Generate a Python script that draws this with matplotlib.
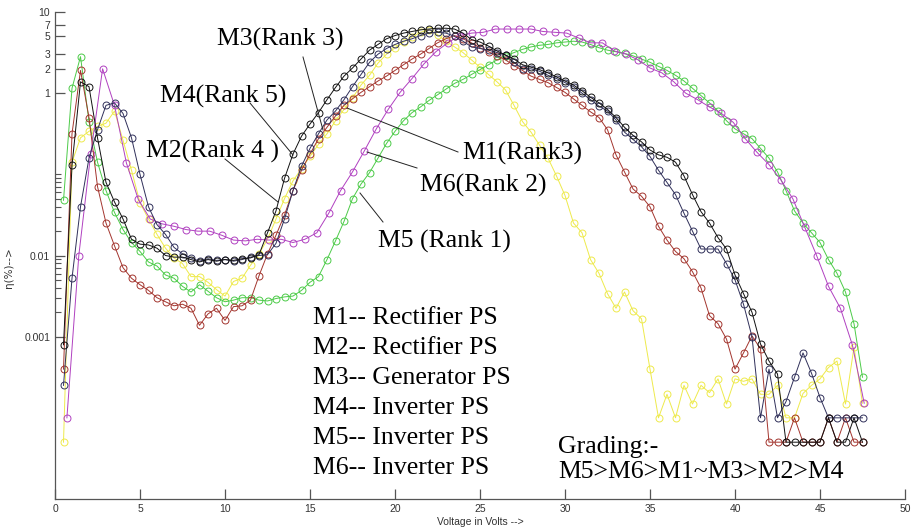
import numpy as np
import matplotlib
matplotlib.use("Agg")
import matplotlib.pyplot as plt
from matplotlib.lines import Line2D
from matplotlib.ticker import FixedLocator, FixedFormatter, NullFormatter

# sampling voltages (most sets every 0.5 V, M6 every 0.7 V)
volts = np.arange(1, 96) * 0.5
volts_m6 = np.arange(1, 69) * 0.7

# efficiency as log10 of percent
m1_log = [-3.6, -2.28, -1.4, -0.8, -0.45, -0.15, -0.12, -0.25, -0.55, -1.0,
          -1.4, -1.62, -1.74, -1.9, -1.98, -2.03, -2.07, -2.04, -2.06, -2.05,
          -2.07, -2.05, -2.02, -2.0, -1.99, -1.85, -1.55, -1.2, -0.9, -0.68,
          -0.5, -0.33, -0.22, -0.08, 0.08, 0.23, 0.38, 0.48, 0.55, 0.6,
          0.64, 0.67, 0.71, 0.74, 0.75, 0.74, 0.7, 0.64, 0.57, 0.55,
          0.53, 0.5, 0.47, 0.38, 0.3, 0.3, 0.27, 0.22, 0.18, 0.13,
          0.08, 0.0, -0.08, -0.16, -0.22, -0.33, -0.48, -0.57, -0.66, -0.78,
          -0.95, -1.1, -1.25, -1.48, -1.7, -1.92, -1.92, -1.92, -2.1, -2.3,
          -2.6, -3.0, -4.0, -3.4, -4.0, -3.8, -3.5, -3.2, -3.45, -3.75,
          -4.0, -4.0, -4.0, -4.0, -4.0]

m2_log = [-3.4, -0.5, 0.28, -0.3, -1.15, -1.6, -1.88, -2.15, -2.28, -2.36,
          -2.43, -2.52, -2.57, -2.62, -2.6, -2.65, -2.86, -2.72, -2.65, -2.8,
          -2.63, -2.62, -2.55, -2.25, -1.98, -1.75, -1.5, -1.2, -0.95, -0.75,
          -0.56, -0.42, -0.28, -0.15, -0.07, 0.01, 0.08, 0.15, 0.21, 0.28,
          0.35, 0.42, 0.48, 0.55, 0.62, 0.67, 0.71, 0.67, 0.62, 0.56,
          0.51, 0.46, 0.41, 0.34, 0.28, 0.21, 0.17, 0.13, 0.07, 0.01,
          -0.07, -0.15, -0.23, -0.3, -0.45, -0.76, -0.97, -1.18, -1.27, -1.4,
          -1.64, -1.81, -1.95, -2.04, -2.2, -2.4, -2.74, -2.84, -3.03, -3.4,
          -3.2, -2.99, -3.15, -4.3, -4.3, -4.3, -4.0, -4.3, -4.3, -4.3,
          -4.0, -4.3, -4.0, -4.3, -4.3]

m3_log = [-3.1, -0.89, 0.14, 0.08, -0.55, -1.1, -1.34, -1.55, -1.8, -1.86,
          -1.87, -1.91, -2.0, -2.02, -2.02, -2.05, -2.08, -2.05, -2.07, -2.05,
          -2.06, -2.04, -2.03, -1.99, -1.72, -1.45, -1.05, -0.75, -0.53, -0.38,
          -0.24, -0.08, 0.07, 0.21, 0.31, 0.42, 0.53, 0.6, 0.67, 0.71,
          0.74, 0.76, 0.78, 0.79, 0.8, 0.8, 0.79, 0.74, 0.66, 0.63,
          0.58, 0.52, 0.47, 0.42, 0.35, 0.32, 0.29, 0.25, 0.2, 0.15,
          0.1, 0.03, -0.05, -0.12, -0.2, -0.3, -0.42, -0.52, -0.6, -0.7,
          -0.76, -0.79, -0.85, -1.02, -1.25, -1.46, -1.6, -1.78, -1.92, -2.24,
          -2.47, -2.7, -3.09, -3.3, -3.46, -4.3, -4.3, -4.3, -4.3, -4.3,
          -4.0, -4.3, -4.3, -4.0, -4.3]

m4_log = [-4.3, -0.85, -0.55, -0.47, -0.41, -0.37, -0.22, -0.58, -0.95, -1.35,
          -1.55, -1.74, -1.91, -2.03, -2.1, -2.26, -2.26, -2.33, -2.42, -2.5,
          -2.32, -2.28, -2.12, -1.98, -1.8, -1.55, -1.3, -1.08, -0.93, -0.78,
          -0.63, -0.5, -0.34, -0.2, -0.06, 0.1, 0.22, 0.37, 0.48, 0.56,
          0.63, 0.69, 0.75, 0.78, 0.72, 0.64, 0.57, 0.5, 0.41, 0.32,
          0.23, 0.14, 0.04, -0.15, -0.35, -0.48, -0.64, -0.8, -1.02, -1.26,
          -1.6, -1.72, -2.05, -2.22, -2.47, -2.65, -2.45, -2.68, -2.78, -3.4,
          -4.0, -3.71, -4.0, -3.6, -3.83, -3.6, -3.69, -3.52, -3.83, -3.52,
          -3.55, -3.52, -3.71, -3.71, -3.6, -4.0, -4.0, -3.7, -3.6, -3.52,
          -3.38, -3.3, -3.83, -3.13, -3.82]

m5_log = [-1.32, 0.06, 0.45, -0.35, -0.85, -1.2, -1.47, -1.68, -1.84, -1.95,
          -2.08, -2.13, -2.24, -2.28, -2.38, -2.45, -2.36, -2.44, -2.52, -2.57,
          -2.55, -2.52, -2.52, -2.55, -2.56, -2.53, -2.51, -2.5, -2.43, -2.33,
          -2.26, -2.05, -1.82, -1.58, -1.3, -1.12, -0.98, -0.8, -0.62, -0.47,
          -0.34, -0.24, -0.17, -0.09, -0.02, 0.05, 0.12, 0.17, 0.23, 0.29,
          0.35, 0.41, 0.46, 0.5, 0.54, 0.57, 0.59, 0.6, 0.62, 0.63,
          0.64, 0.63, 0.6, 0.56, 0.53, 0.51, 0.49, 0.46, 0.42, 0.38,
          0.33, 0.28, 0.22, 0.15, 0.06, -0.03, -0.12, -0.22, -0.34, -0.44,
          -0.5, -0.56, -0.68, -0.8, -0.97, -1.2, -1.45, -1.6, -1.72, -1.84,
          -2.05, -2.22, -2.45, -2.84, -3.5]

m6_log = [-4.0, -2.0, -0.75, 0.3, -0.15, -0.86, -1.31, -1.55, -1.61, -1.64,
          -1.68, -1.70, -1.70, -1.75, -1.81, -1.82, -1.80, -1.81, -1.80, -1.84,
          -1.80, -1.72, -1.48, -1.2, -0.97, -0.71, -0.44, -0.2, 0.01, 0.18,
          0.36, 0.51, 0.62, 0.71, 0.74, 0.75, 0.79, 0.79, 0.79, 0.79,
          0.76, 0.75, 0.74, 0.68, 0.62, 0.62, 0.52, 0.48, 0.41, 0.31,
          0.25, 0.14, 0.0, -0.08, -0.17, -0.25, -0.36, -0.56, -0.73, -0.88,
          -1.07, -1.3, -1.65, -2.0, -2.38, -2.65, -3.1, -3.82]

ytick_vals = [0.001, 0.01, 1, 2, 3, 5, 7, 10]
ytick_labels = ["0.001", "0.01", "1", "2", "3", "5", "7", "10"]

W, H = 922, 530
fig = plt.figure(figsize=(W / 100, H / 100), dpi=100)
ax = fig.add_axes([55 / W, 1 - 499 / H, 850 / W, 487 / H])

series = [
    (volts, m4_log, "#eeea4c"),
    (volts, m5_log, "#4ccb48"),
    (volts_m6, m6_log, "#b040c0"),
    (volts, m2_log, "#a3352e"),
    (volts, m1_log, "#30305a"),
    (volts, m3_log, "#111111"),
]
for x, lg, col in series:
    ax.plot(x, 10 ** np.array(lg), color=col, lw=0.7, marker="o", ms=5,
            mfc="none", mec=col, mew=0.7)

ax.set_yscale("log")
ax.set_xlim(0, 50)
ax.set_ylim(1e-5, 10)
ax.set_xticks(range(0, 51, 5))
ax.yaxis.set_major_locator(FixedLocator(ytick_vals))
ax.yaxis.set_major_formatter(FixedFormatter(ytick_labels))
minor = [k * 1e-3 for k in range(2, 10)] + [k * 1e-2 for k in range(2, 10)] + [0.1]
ax.yaxis.set_minor_locator(FixedLocator(minor))
ax.yaxis.set_minor_formatter(NullFormatter())
ax.xaxis.set_minor_locator(FixedLocator([]))

for s in ["top", "right"]:
    ax.spines[s].set_visible(False)
for s in ["left", "bottom"]:
    ax.spines[s].set_color("#555555")
    ax.spines[s].set_linewidth(0.9)
ax.tick_params(which="major", direction="in", length=7, color="#555555",
               labelsize=7.5, labelcolor="#333333", width=0.9)
ax.tick_params(which="minor", direction="in", length=4, color="#555555", width=0.8)
for lab in ax.get_xticklabels() + ax.get_yticklabels():
    lab.set_family("Liberation Sans")

ax.set_xlabel("Voltage in Volts -->", fontsize=7.5, family="Liberation Sans",
              color="#333333", labelpad=2)
fig.text(9 / W, 1 - 268 / H, "η(%)-->", rotation=90, fontsize=7.5,
         family="DejaVu Sans", color="#333333", ha="center", va="center")


def ftext(x, y, s):
    fig.text(x / W, 1 - y / H, s, fontsize=18.5, family="Liberation Serif",
             ha="left", va="center")


def leader(x1, y1, x2, y2):
    fig.add_artist(Line2D([x1 / W, x2 / W], [1 - y1 / H, 1 - y2 / H],
                          transform=fig.transFigure, color="#222222", lw=0.7))


ftext(217, 39, "M3(Rank 3)")
ftext(160, 96, "M4(Rank 5)")
ftext(146, 151, "M2(Rank 4 )")
ftext(462, 153, "M1(Rank3)")
ftext(420, 185, "M6(Rank 2)")
ftext(378, 241, "M5 (Rank 1)")

leader(303, 57, 323, 130)
leader(250, 103, 293, 155)
leader(225, 159, 278, 202)
leader(347, 108, 458, 152)
leader(367, 152, 417, 168)
leader(360, 193, 383, 222)

legend_rows = ["M1-- Rectifier PS", "M2-- Rectifier PS", "M3-- Generator PS",
               "M4-- Inverter PS", "M5-- Inverter PS", "M6-- Inverter PS"]
for i, row in enumerate(legend_rows):
    ftext(313, 318 + i * 30, row)

ftext(558, 447, "Grading:-")
ftext(558, 472, "M5>M6>M1~M3>M2>M4")

fig.savefig("out.png", dpi=100)
